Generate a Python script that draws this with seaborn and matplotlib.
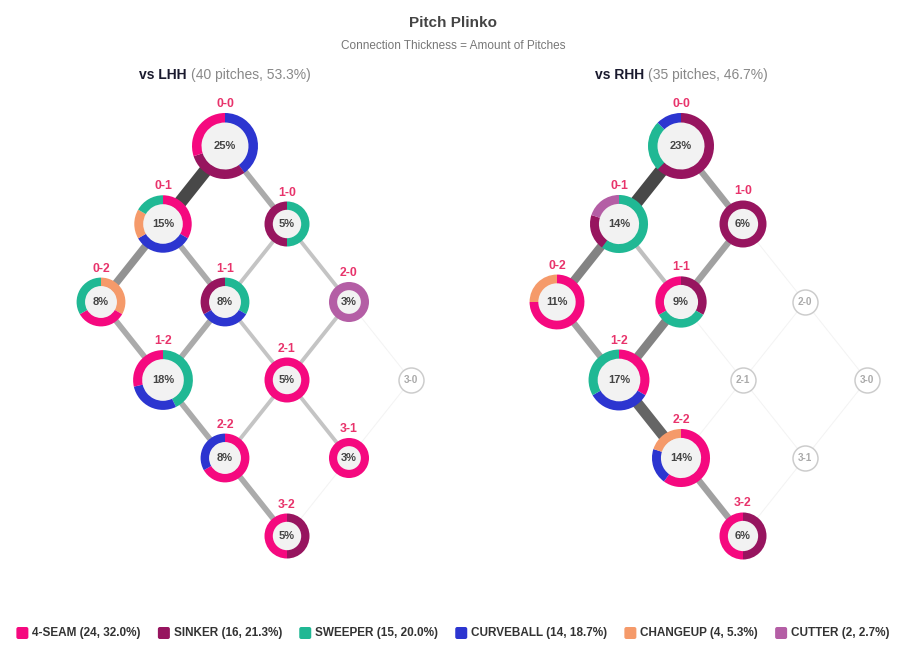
import numpy as np
import pandas as pd
import matplotlib
matplotlib.use("Agg")
import matplotlib.pyplot as plt
from matplotlib.patches import Wedge, Circle, FancyBboxPatch
import seaborn as sns

# ── data ──────────────────────────────────────────────────────
PITCHES = ["4-SEAM", "SINKER", "SWEEPER", "CURVEBALL", "CHANGEUP", "CUTTER"]
PITCH_COLORS = ["#f5097f", "#97155f", "#20b894", "#2c35d0", "#f59a6a", "#b45ea5"]

COUNTS = ["0-0", "0-1", "1-0", "0-2", "1-1", "2-0",
          "1-2", "2-1", "3-0", "2-2", "3-1", "3-2"]

# pitch mix per count, clockwise from 12 o'clock
lhh_mix = [
    [("CURVEBALL", 4), ("SINKER", 3), ("4-SEAM", 3)],
    [("4-SEAM", 2), ("CURVEBALL", 2), ("CHANGEUP", 1), ("SWEEPER", 1)],
    [("SWEEPER", 1), ("SINKER", 1)],
    [("CHANGEUP", 1), ("4-SEAM", 1), ("SWEEPER", 1)],
    [("SWEEPER", 1), ("CURVEBALL", 1), ("SINKER", 1)],
    [("CUTTER", 1)],
    [("SWEEPER", 3), ("CURVEBALL", 2), ("4-SEAM", 2)],
    [("4-SEAM", 2)],
    [],
    [("4-SEAM", 2), ("CURVEBALL", 1)],
    [("4-SEAM", 1)],
    [("SINKER", 1), ("4-SEAM", 1)],
]
rhh_mix = [
    [("SINKER", 5), ("SWEEPER", 2), ("CURVEBALL", 1)],
    [("SWEEPER", 3), ("SINKER", 1), ("CUTTER", 1)],
    [("SINKER", 2)],
    [("4-SEAM", 3), ("CHANGEUP", 1)],
    [("SINKER", 1), ("SWEEPER", 1), ("4-SEAM", 1)],
    [],
    [("4-SEAM", 2), ("CURVEBALL", 2), ("SWEEPER", 2)],
    [],
    [],
    [("4-SEAM", 3), ("CURVEBALL", 1), ("CHANGEUP", 1)],
    [],
    [("SINKER", 1), ("4-SEAM", 1)],
]

EDGES = [("0-0", "0-1"), ("0-0", "1-0"), ("0-1", "0-2"), ("0-1", "1-1"),
         ("1-0", "1-1"), ("1-0", "2-0"), ("0-2", "1-2"), ("1-1", "1-2"),
         ("1-1", "2-1"), ("2-0", "2-1"), ("2-0", "3-0"), ("1-2", "2-2"),
         ("2-1", "2-2"), ("2-1", "3-1"), ("3-0", "3-1"), ("2-2", "3-2"),
         ("3-1", "3-2")]
lhh_edge_n = [6, 2, 3, 2, 1, 1, 2, 2, 1, 1, 0, 2, 1, 1, 0, 2, 0]
rhh_edge_n = [5, 2, 3, 1, 2, 0, 2, 3, 0, 0, 0, 4, 0, 0, 0, 2, 0]

# ── style ─────────────────────────────────────────────────────
sns.set_theme(style="white")
plt.rcParams["font.family"] = ["Liberation Sans", "DejaVu Sans"]
pal = dict(zip(PITCHES, sns.color_palette(PITCH_COLORS)))
LABEL_RED = "#e8336b"
PX = 0.72  # points per pixel at dpi 100

fig = plt.figure(figsize=(9.09, 6.70), dpi=100)
ax = fig.add_axes([0, 0, 1, 1])
ax.set_xlim(0, 909)
ax.set_ylim(670, 0)
ax.axis("off")

panels = [("vs LHH", lhh_mix, lhh_edge_n, 225),
          ("vs RHH", rhh_mix, rhh_edge_n, 681)]
grand_total = sum(n for _, mix, _, _ in panels for node in mix for _, n in node)


def pos(count, cx):
    b, s = map(int, count.split("-"))
    return cx + 62 * (b - s), 146 + 78 * (b + s)


def two_tone(x, y, bold_txt, rest_txt, size):
    t1 = ax.text(x, y, bold_txt, fontsize=size, fontweight="bold",
                 color="#1a1a2e", va="center", ha="left")
    t2 = ax.text(x, y, rest_txt, fontsize=size, color="#888888",
                 va="center", ha="left")
    r = fig.canvas.get_renderer()
    w1 = t1.get_window_extent(r).width
    w2 = t2.get_window_extent(r).width
    gap = 4
    start = x - (w1 + gap + w2) / 2
    t1.set_x(start)
    t2.set_x(start + w1 + gap)


for title, mix, edge_n, cx in panels:
    node_n = [sum(n for _, n in node) for node in mix]
    total = sum(node_n)
    max_node = max(node_n)
    max_edge = max(edge_n)

    two_tone(cx, 75, title,
             f"({total} pitches, {100 * total / grand_total:.1f}%)", 10)

    # connections
    order = np.argsort(edge_n, kind="stable")
    for i in order:
        a, b = EDGES[i]
        (x1, y1), (x2, y2) = pos(a, cx), pos(b, cx)
        n = edge_n[i]
        if n == 0:
            col, w = "#f3f3f3", 1.0
        else:
            f = n / max_edge
            g = int(221 - f * (221 - 72))
            col = f"#{g:02x}{g:02x}{g:02x}"
            w = 2 + 11 * f
        ax.plot([x1, x2], [y1, y2], color=col, lw=w * PX,
                solid_capstyle="butt", zorder=1)

    # empty counts
    empty = pd.DataFrame([pos(c, cx) for c, n in zip(COUNTS, node_n) if n == 0],
                         columns=["x", "y"])
    if len(empty):
        sns.scatterplot(data=empty, x="x", y="y", ax=ax, s=(25 * PX) ** 2,
                        color="white", edgecolor="#cccccc", linewidth=1.5 * PX,
                        zorder=3, legend=False)
    for c, n in zip(COUNTS, node_n):
        if n == 0:
            x, y = pos(c, cx)
            ax.text(x, y, c, fontsize=7.2, fontweight="bold", color="#aaaaaa",
                    ha="center", va="center", zorder=4)

    # donut nodes
    for c, node, n in zip(COUNTS, mix, node_n):
        if n == 0:
            continue
        x, y = pos(c, cx)
        r = 14 + 19 * np.sqrt(n / max_node)
        ring = 8 + 1.5 * (n / max_node)
        ax.add_patch(Circle((x, y), r - ring + 0.5, facecolor="#f2f2f2",
                            edgecolor="none", zorder=3))
        start = -90.0
        for p, k in node:
            span = 360.0 * k / n
            ax.add_patch(Wedge((x, y), r, start, start + span, width=ring,
                               facecolor=pal[p], edgecolor="none", zorder=4))
            start += span
        pct = int(100 * n / total + 0.5)
        ax.text(x, y, f"{pct}%", fontsize=8, fontweight="bold",
                color="#444444", ha="center", va="center", zorder=5)
        ax.text(x, y - r - 9, c, fontsize=8.8, fontweight="bold",
                color=LABEL_RED, ha="center", va="center", zorder=5)

# ── titles ────────────────────────────────────────────────────
ax.text(453, 23, "Pitch Plinko", fontsize=11, fontweight="bold",
        color="#444444", ha="center", va="center")
ax.text(453, 46, "Connection Thickness = Amount of Pitches", fontsize=8.5,
        color="#777777", ha="center", va="center")

# ── legend ────────────────────────────────────────────────────
pitch_tot = {p: 0 for p in PITCHES}
for _, mix, _, _ in panels:
    for node in mix:
        for p, k in node:
            pitch_tot[p] += k
labels = [f"{p} ({pitch_tot[p]}, {100 * pitch_tot[p] / grand_total:.1f}%)"
          for p in PITCHES]

renderer = fig.canvas.get_renderer()
sq, sq_gap, item_gap, ly = 12, 4, 17, 633
texts = [ax.text(0, ly, lab, fontsize=8.5, fontweight="bold", color="#333333",
                 ha="left", va="center") for lab in labels]
widths = [t.get_window_extent(renderer).width for t in texts]
full = sum(sq + sq_gap + w for w in widths) + item_gap * (len(widths) - 1)
x = 453 - full / 2
for p, t, w in zip(PITCHES, texts, widths):
    ax.add_patch(FancyBboxPatch((x, ly - sq / 2), sq, sq,
                                boxstyle="round,pad=0,rounding_size=2",
                                facecolor=pal[p], edgecolor="none"))
    t.set_x(x + sq + sq_gap)
    x += sq + sq_gap + w + item_gap

fig.savefig("out.png", dpi=100)
plt.close(fig)
